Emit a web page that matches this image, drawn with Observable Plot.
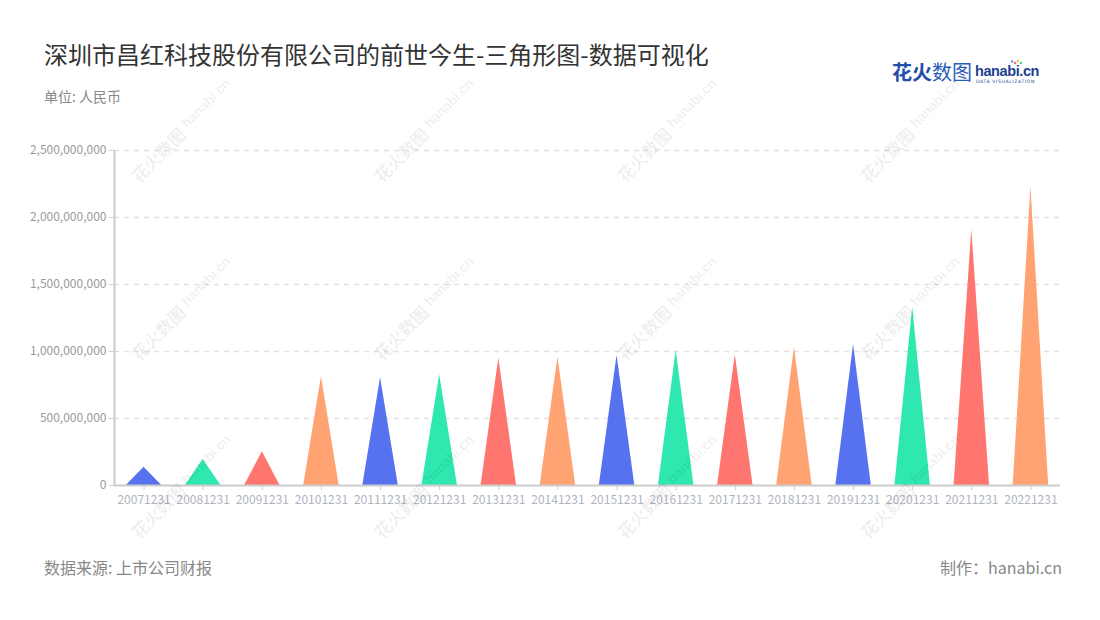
<!DOCTYPE html>
<html>
<head>
<meta charset="utf-8">
<script src="https://cdn.jsdelivr.net/npm/d3@7"></script>
<script src="https://cdn.jsdelivr.net/npm/@observablehq/plot@0.6"></script>
<style>
  html, body { margin: 0; padding: 0; background: #fff; }
  #wrap { position: relative; width: 1100px; height: 620px; overflow: hidden; font-family: "Noto Sans CJK SC", "Noto Sans", sans-serif; }
  #chart { position: absolute; left: 0; top: 0; }
  .abs { position: absolute; white-space: nowrap; }
  #title { left: 44px; top: 38px; font-size: 24px; color: #333; line-height: 32px; }
  #subtitle { left: 44px; top: 86px; font-size: 14px; color: #888; line-height: 20px; }
  #source { left: 44px; top: 555px; font-size: 16px; color: #888; line-height: 24px; }
  #credit { right: 38px; top: 555px; font-size: 16px; color: #888; line-height: 24px; }
  #logo { left: 892px; top: 58px; }
  #wm { position: absolute; left: 0; top: 0; pointer-events: none; }
</style>
</head>
<body>
<div id="wrap">
  <div id="chart"></div>
  <div id="title" class="abs">深圳市昌红科技股份有限公司的前世今生-三角形图-数据可视化</div>
  <div id="subtitle" class="abs">单位: 人民币</div>
  <div id="source" class="abs">数据来源: 上市公司财报</div>
  <div id="credit" class="abs">制作：hanabi.cn</div>
  <svg id="logo" class="abs" width="160" height="32">
    <text x="0" y="22" font-size="20" font-weight="bold" fill="#1f4fa6" font-family="Noto Sans CJK SC">花火</text>
    <text x="40" y="22" font-size="20" fill="#2a5cb8" font-family="Noto Sans CJK SC">数图</text>
    <text x="83" y="18" font-size="14.5" font-weight="bold" fill="#1d3f8f" font-family="Liberation Sans" letter-spacing="-0.4">hanabi.cn</text>
    <text x="84" y="25" font-size="4.6" fill="#1d3f8f" font-family="DejaVu Sans" letter-spacing="0.6">DATA VISUALIZATION</text>
    <circle cx="123" cy="5" r="1.3" fill="#ff6b6b"/>
    <circle cx="126" cy="3" r="1.3" fill="#ffc04d"/>
    <circle cx="129" cy="5" r="1.3" fill="#4dd4a0"/>
    <circle cx="120" cy="3.5" r="1.2" fill="#6a8cff"/>
  </svg>
  <svg id="wm" width="1100" height="620"></svg>
</div>
<script>
const labels = ["20071231","20081231","20091231","20101231","20111231","20121231","20131231","20141231",
                "20151231","20161231","20171231","20181231","20191231","20201231","20211231","20221231"];
const values = [136e6, 194e6, 251e6, 813e6, 804e6, 826e6, 950e6, 957e6,
                970e6, 1007e6, 975e6, 1032e6, 1052e6, 1331e6, 1908e6, 2231e6];
const palette = ["#5672ee", "#2ee8b0", "#ff7670", "#ffa372"];
const yTicks = [0, 500000000, 1000000000, 1500000000, 2000000000, 2500000000];

const half = 0.3; // half base width of each triangle, in band units
const tri = labels.flatMap((l, i) => [
  {x: i - half, y: 0, cat: l},
  {x: i, y: values[i], cat: l},
  {x: i + half, y: 0, cat: l}
]);
const xDomain = [-0.5, labels.length - 0.5];
const yDomain = [0, yTicks[yTicks.length - 1]];

const chart = Plot.plot({
  width: 1100,
  height: 620,
  marginLeft: 114,
  marginRight: 40,
  marginTop: 150,
  marginBottom: 135,
  x: {domain: xDomain},
  y: {domain: yDomain},
  color: {domain: labels, range: labels.map((_, i) => palette[i % palette.length])},
  style: {fontFamily: "'Noto Sans CJK SC', 'Noto Sans', sans-serif", fontSize: "12px", background: "transparent"},
  marks: [
    Plot.ruleY(yTicks.slice(1), {stroke: "#e2e2e2", strokeWidth: 1.5, strokeDasharray: "5,5"}),
    Plot.areaY(tri, {x: "x", y: "y", z: "cat", fill: "cat", curve: "linear"}),
    Plot.ruleY([0], {stroke: "#cccccc", strokeWidth: 2}),
    Plot.ruleX([xDomain[0]], {y1: yDomain[0], y2: yDomain[1], stroke: "#cccccc", strokeWidth: 2}),
    Plot.axisY({ticks: yTicks, tickFormat: d3.format(","), tickSize: 5, tickPadding: 3,
                stroke: "#cccccc", fill: "#9a9a9a", label: null}),
    Plot.axisX({ticks: d3.range(labels.length), tickFormat: i => labels[i], tickSize: 5, tickPadding: 5,
                stroke: "#cccccc", fill: "#b0b4c0", label: null})
  ]
});
document.getElementById("chart").appendChild(chart);

// faint watermark tiles
const wmCols = [185, 428, 671, 914];
const wmRows = [128, 306, 484];
const wm = d3.select("#wm");
for (const cy of wmRows) for (const cx of wmCols) {
  const g = wm.append("g").attr("transform", `translate(${cx},${cy}) rotate(-45)`)
    .attr("fill", "#000").attr("fill-opacity", 0.07);
  g.append("text").attr("x", -4).attr("y", 7).attr("text-anchor", "end")
    .attr("font-size", 17).attr("font-weight", "bold").attr("font-family", "Noto Sans CJK SC").text("花火数图");
  g.append("text").attr("x", 1).attr("y", 2).attr("font-size", 14).attr("font-weight", "bold")
    .attr("font-family", "Liberation Sans").attr("letter-spacing", -0.3).text("hanabi.cn");
  g.append("text").attr("x", 2).attr("y", 8).attr("font-size", 4).attr("letter-spacing", 0.5)
    .attr("font-family", "DejaVu Sans").text("DATA VISUALIZATION");
}
</script>
</body>
</html>
